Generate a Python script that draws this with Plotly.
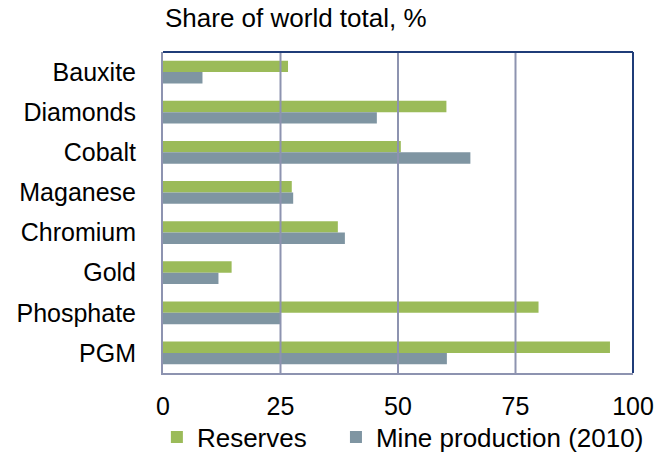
import plotly.graph_objects as go

categories = ["Bauxite", "Diamonds", "Cobalt", "Maganese", "Chromium", "Gold", "Phosphate", "PGM"]
reserves = [26.6, 60.3, 50.6, 27.4, 37.2, 14.6, 79.9, 95.1]
mine_production = [8.4, 45.5, 65.4, 27.7, 38.7, 11.8, 25.1, 60.4]
x_ticks = [0, 25, 50, 75, 100]
series_names = ["Reserves", "Mine production (2010)"]

GREEN = "#9BBB59"
SLATE = "#7F95A2"
GRID = "#8D93B0"
NAVY = "#1F3C78"
FONT = "Liberation Sans, Arial, sans-serif"

fig = go.Figure()
fig.add_trace(go.Bar(y=categories, x=reserves, name=series_names[0], orientation="h",
                     marker=dict(color=GREEN, line=dict(width=0)), legend="legend"))
fig.add_trace(go.Bar(y=categories, x=mine_production, name=series_names[1], orientation="h",
                     marker=dict(color=SLATE, line=dict(width=0)), legend="legend2"))

shapes = []
for v in x_ticks[1:-1]:
    shapes.append(dict(type="line", xref="x", yref="paper", x0=v, x1=v, y0=0, y1=1,
                       line=dict(color=GRID, width=2), layer="above"))
# top and right frame
shapes.append(dict(type="line", xref="paper", yref="paper", x0=0, x1=1, y0=1, y1=1,
                   line=dict(color=NAVY, width=2), layer="above"))
shapes.append(dict(type="line", xref="paper", yref="paper", x0=1, x1=1, y0=0, y1=1,
                   line=dict(color=NAVY, width=2), layer="above"))

legend_common = dict(orientation="h", y=-0.2, yanchor="middle", font=dict(size=26),
                     bgcolor="rgba(0,0,0,0)")

fig.update_layout(
    width=655, height=455,
    margin=dict(l=163, r=22, t=52, b=82, autoexpand=False),
    paper_bgcolor="white", plot_bgcolor="white",
    font=dict(family=FONT, size=25, color="black"),
    barmode="group", bargap=0.43, bargroupgap=0,
    showlegend=True,
    legend=dict(x=-0.013, xanchor="left", **legend_common),
    legend2=dict(x=0.368, xanchor="left", **legend_common),
    title=dict(text="Share of world total, %", xref="container", x=165/655, xanchor="left",
               yref="container", y=1 - 18/455, yanchor="middle",
               font=dict(size=26, family=FONT, color="black")),
    shapes=shapes,
)
fig.update_xaxes(range=[0, 100], tickvals=x_ticks, showgrid=False, zeroline=False,
                 showline=True, linecolor=GRID, linewidth=2, ticks="", automargin=False,
                 ticklabelstandoff=10, tickfont=dict(size=25))
fig.update_yaxes(autorange="reversed", showgrid=False, showline=True, linecolor=GRID,
                 linewidth=2, ticks="", automargin=False, ticklabelstandoff=20,
                 tickfont=dict(size=25))

fig.write_html("out.html")
